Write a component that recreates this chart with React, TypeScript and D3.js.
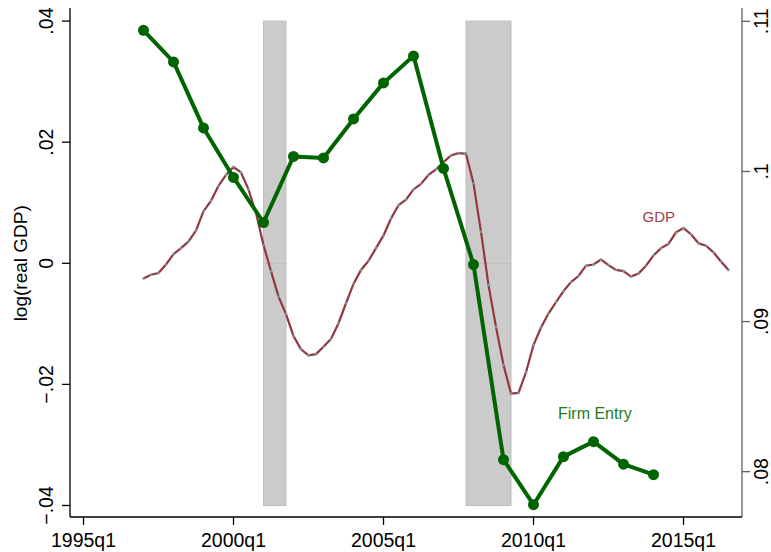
import React from 'react'
import * as d3 from "d3";

// quarterly log(real GDP), deviation from trend, starting 1997q1
const gdpStart = "1997q1"
const gdpValues = [
  -0.0025, -0.0019, -0.0016, -0.0002, 0.0015, 0.0025, 0.0036, 0.0054,
  0.0086, 0.0103, 0.0128, 0.0146, 0.0159, 0.0150, 0.0122, 0.0083,
  0.0030, -0.0013, -0.0055, -0.0084, -0.0120, -0.0142, -0.0152, -0.0150,
  -0.0138, -0.0125, -0.0099, -0.0066, -0.0034, -0.0011, 0.0004, 0.0025,
  0.0046, 0.0074, 0.0096, 0.0105, 0.0122, 0.0131, 0.0146, 0.0155,
  0.0167, 0.0178, 0.0182, 0.0181, 0.0132, 0.0052, -0.0036, -0.0105,
  -0.0168, -0.0215, -0.0214, -0.0180, -0.0135, -0.0106, -0.0083, -0.0064,
  -0.0046, -0.0031, -0.0021, -0.0004, -0.0002, 0.0006, -0.0003, -0.0011,
  -0.0013, -0.0022, -0.0017, -0.0004, 0.0013, 0.0025, 0.0032, 0.0051,
  0.0058, 0.0048, 0.0033, 0.0029, 0.0018, 0.0003, -0.0011,
]

// annual firm entry rate (right axis), plotted at q1 of each year
const entryYears = [1997, 1998, 1999, 2000, 2001, 2002, 2003, 2004, 2005,
  2006, 2007, 2008, 2009, 2010, 2011, 2012, 2013, 2014]
const entryValues = [0.1094, 0.1073, 0.1029, 0.0996, 0.0966, 0.1010, 0.1009,
  0.1035, 0.1059, 0.1077, 0.1002, 0.0938, 0.0808, 0.0778, 0.0810, 0.0820,
  0.0805, 0.0798]

const recessions = [["2001q1", "2001q4"], ["2007q4", "2009q2"]]

const xTicks = ["1995q1", "2000q1", "2005q1", "2010q1", "2015q1"]
const leftTicks = [-0.04, -0.02, 0, 0.02, 0.04]
const leftTickLabels = ["\u2212.04", "\u2212.02", "0", ".02", ".04"]
const rightTicks = [0.08, 0.09, 0.10, 0.11]
const rightTickLabels = [".08", ".09", ".1", ".11"]

// Stata style quarter index
const tq = (s: string) => {
  const [y, q] = s.split("q").map(Number)
  return (y - 1960) * 4 + (q - 1)
}

const font = "'Liberation Sans', Arial, sans-serif"

export default function App() {
  const width = 771
  const height = 552
  const margin = { top: 8, right: 29, bottom: 35, left: 70 }
  const innerW = width - margin.left - margin.right
  const innerH = height - margin.top - margin.bottom

  const x = d3.scaleLinear().domain([138.2, 227.8]).range([0, innerW])
  const yL = d3.scaleLinear().domain([-0.0419, 0.04216]).range([innerH, 0])
  const yR = d3.scaleLinear().domain([0.07698, 0.11089]).range([innerH, 0])

  const gdpData = gdpValues.map((v, i) => ({ t: tq(gdpStart) + i, v }))
  const entryData = entryYears.map((yr, i) => ({ t: tq(`${yr}q1`), v: entryValues[i] }))

  const gdpLine = d3.line<{ t: number, v: number }>()
    .x(d => x(d.t))
    .y(d => yL(d.v))
  const entryLine = d3.line<{ t: number, v: number }>()
    .x(d => x(d.t))
    .y(d => yR(d.v))

  return (
    <svg width={width} height={height} style={{ position: 'absolute', left: 0, top: 0, background: '#fff' }}>
      <g transform={`translate(${margin.left},${margin.top})`}>
        {/* recession shading */}
        {recessions.map(([a, b], i) => (
          <g key={i}>
            <rect x={x(tq(a))} y={yL(0.04)} width={x(tq(b)) - x(tq(a))} height={yL(-0.04) - yL(0.04)}
              fill="#cbcbcb" stroke="#bdbdbd" strokeWidth={1} />
            <line x1={x(tq(a))} x2={x(tq(b))} y1={yL(0)} y2={yL(0)} stroke="#bdbdbd" strokeWidth={1} />
          </g>
        ))}

        {/* GDP */}
        <path d={gdpLine(gdpData) ?? ""} fill="none" stroke="#943642" strokeWidth={2.2} />
        {gdpData.map((d, i) => (
          <circle key={i} cx={x(d.t)} cy={yL(d.v)} r={1.3} fill="#7d9a90" />
        ))}
        <text x={x(tq("2013q3")) + 4} y={221.7 - margin.top} fill="#a0404a" fontFamily={font} fontSize={15}>GDP</text>

        {/* firm entry */}
        <path d={entryLine(entryData) ?? ""} fill="none" stroke="#006400" strokeWidth={4} strokeLinejoin="round" />
        {entryData.map((d, i) => (
          <circle key={i} cx={x(d.t)} cy={yR(d.v)} r={5.5} fill="#006400" />
        ))}
        <text x={558 - margin.left} y={419 - margin.top} fill="#1e7b1e" fontFamily={font} fontSize={16}>Firm Entry</text>

        {/* left axis */}
        <line x1={0} x2={0} y1={0} y2={innerH} stroke="#000" strokeWidth={1.3} />
        {leftTicks.map((t, i) => (
          <g key={i} transform={`translate(0,${yL(t)})`}>
            <line x1={-8} x2={0} stroke="#000" strokeWidth={1.3} />
            <text transform="translate(-17,0) rotate(-90)" textAnchor="middle" fontFamily={font} fontSize={19.5} fill="#000">
              {leftTickLabels[i]}
            </text>
          </g>
        ))}
        <text transform={`translate(${-43},${yL(0)}) rotate(-90)`} textAnchor="middle" fontFamily={font} fontSize={19} fill="#000">
          log(real GDP)
        </text>

        {/* right axis */}
        <line x1={innerW} x2={innerW} y1={0} y2={innerH} stroke="#606060" strokeWidth={1.3} />
        {rightTicks.map((t, i) => (
          <g key={i} transform={`translate(${innerW},${yR(t)})`}>
            <line x1={0} x2={8} stroke="#606060" strokeWidth={1.3} />
            <text transform="translate(26,0) rotate(-90)" textAnchor="middle" fontFamily={font} fontSize={19.5} fill="#000">
              {rightTickLabels[i]}
            </text>
          </g>
        ))}

        {/* bottom axis */}
        <line x1={0} x2={innerW} y1={innerH} y2={innerH} stroke="#000" strokeWidth={1.3} />
        {xTicks.map((t, i) => (
          <g key={i} transform={`translate(${x(tq(t))},${innerH})`}>
            <line y1={0} y2={8} stroke="#000" strokeWidth={1.3} />
            <text y={30} textAnchor="middle" fontFamily={font} fontSize={19.5} fill="#000">{t}</text>
          </g>
        ))}
      </g>
    </svg>
  )
}
